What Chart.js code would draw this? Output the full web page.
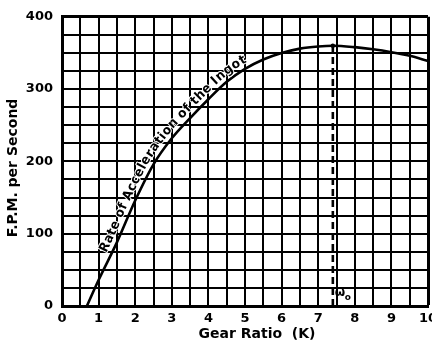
<!DOCTYPE html>
<html>
<head>
<meta charset="utf-8">
<script src="https://cdn.jsdelivr.net/npm/chart.js"></script>
<style>
  html, body { margin: 0; padding: 0; background: #fff; }
  #wrap { width: 432px; height: 345px; }
</style>
</head>
<body>
<div id="wrap"><canvas id="accelChart" width="432" height="345"></canvas></div>
<script>
// gear ratio K against rate of acceleration (F.P.M. per second)
const gearRatio = [0.68, 1.0, 1.5, 2.0, 2.5, 3.0, 3.5, 4.0, 4.5, 5.0, 5.5, 6.0, 6.5, 7.0, 7.4, 8.0, 8.5, 9.0, 9.5, 10.0];
const fpmPerSec = [0, 36, 88, 146, 196, 232, 260, 286, 310, 328, 341, 350, 356, 359, 360, 358, 355, 351, 346, 339];

// optimum ratio, dashed down to the axis
const peakX = [7.4, 7.4];
const peakY = [0, 360];

const xTicks = [0, 1, 2, 3, 4, 5, 6, 7, 8, 9, 10];
const yTicks = [0, 100, 200, 300, 400];

const curveLabel = 'Rate of Acceleration of the Ingot';
const xTitle = 'Gear Ratio  (K)';
const yTitle = 'F.P.M. per Second';

const FONT = '"DejaVu Sans", sans-serif';

const curveData = gearRatio.map((x, i) => ({ x: x, y: fpmPerSec[i] }));
const peakData = peakX.map((x, i) => ({ x: x, y: peakY[i] }));

// walk along the drawn bezier curve and put the caption on it
function curvePath(meta){
  const pts = [];
  const d = meta.data;
  for(let i = 0; i < d.length - 1; i++){
    const a = d[i], b = d[i + 1];
    const c1x = a.cp2x ?? a.x, c1y = a.cp2y ?? a.y;
    const c2x = b.cp1x ?? b.x, c2y = b.cp1y ?? b.y;
    for(let k = 0; k < 12; k++){
      const t = k / 12, u = 1 - t;
      pts.push({
        x: u*u*u*a.x + 3*u*u*t*c1x + 3*u*t*t*c2x + t*t*t*b.x,
        y: u*u*u*a.y + 3*u*u*t*c1y + 3*u*t*t*c2y + t*t*t*b.y
      });
    }
  }
  const last = d[d.length - 1];
  pts.push({ x: last.x, y: last.y });
  let s = 0;
  pts[0].s = 0;
  for(let i = 1; i < pts.length; i++){
    s += Math.hypot(pts[i].x - pts[i-1].x, pts[i].y - pts[i-1].y);
    pts[i].s = s;
  }
  return pts;
}

function pointAt(pts, s){
  for(let i = 1; i < pts.length; i++){
    if(pts[i].s >= s){
      const p = pts[i-1], q = pts[i];
      const f = (s - p.s) / ((q.s - p.s) || 1);
      return { x: p.x + (q.x - p.x) * f, y: p.y + (q.y - p.y) * f, a: Math.atan2(q.y - p.y, q.x - p.x) };
    }
  }
  const p = pts[pts.length - 2], q = pts[pts.length - 1];
  return { x: q.x, y: q.y, a: Math.atan2(q.y - p.y, q.x - p.x) };
}

const textPlugin = {
  id: 'textPlugin',
  afterDatasetsDraw(chart){
    const ctx = chart.ctx;
    const xs = chart.scales.x, ys = chart.scales.y;
    const pts = curvePath(chart.getDatasetMeta(0));

    // caption follows the curve between these pixel marks
    let s0 = 0, s1 = 0;
    for(const p of pts){ if(p.y <= 256){ s0 = p.s; break; } }
    for(const p of pts){ if(p.x >= 249){ s1 = p.s; break; } }

    ctx.save();
    const chars = [...curveLabel];
    ctx.font = 'bold 13px ' + FONT;
    const widths = chars.map(ch => ch === ' ' ? 4 : ctx.measureText(ch).width);
    const total = widths.reduce((a, b) => a + b, 0);
    const gap = 0.5;
    // squeeze the letters sideways so the caption fits its stretch of curve
    const squeeze = Math.min(1, (s1 - s0 - gap * (chars.length - 1)) / total);
    let s = s0;
    ctx.textAlign = 'center';
    ctx.textBaseline = 'alphabetic';
    ctx.lineJoin = 'round';
    chars.forEach((ch, i) => {
      const w = widths[i] * squeeze;
      const p = pointAt(pts, s + w / 2);
      ctx.save();
      ctx.translate(p.x, p.y);
      ctx.rotate(p.a);
      ctx.scale(squeeze, 1);
      ctx.strokeStyle = '#fff';
      ctx.lineWidth = 2;
      ctx.strokeText(ch, 0, -5);
      ctx.fillStyle = '#000';
      ctx.fillText(ch, 0, -5);
      ctx.restore();
      s += w + gap;
    });
    ctx.restore();

    // omega-zero mark next to the dashed line
    const px = xs.getPixelForValue(peakX[0]);
    const py = ys.getPixelForValue(0);
    ctx.save();
    ctx.fillStyle = '#000';
    ctx.textAlign = 'left';
    ctx.textBaseline = 'alphabetic';
    ctx.font = 'bold 12px ' + FONT;
    ctx.fillText('ω', px + 2, py - 10);
    ctx.font = 'bold 9px ' + FONT;
    ctx.fillText('o', px + 12, py - 6);
    ctx.restore();

    // axis titles
    ctx.save();
    ctx.fillStyle = '#000';
    ctx.font = 'bold 14px ' + FONT;
    ctx.textAlign = 'center';
    ctx.textBaseline = 'middle';
    ctx.fillText(xTitle, 257, 334);
    ctx.translate(13, 168);
    ctx.rotate(-Math.PI / 2);
    ctx.fillText(yTitle, 0, 0);
    ctx.restore();
  }
};

const edge = (max) => (c) => (c.tick && c.tick.value === max) ? 3 : 2;

new Chart(document.getElementById('accelChart'), {
  type: 'line',
  data: {
    datasets: [
      {
        data: curveData,
        borderColor: '#000',
        borderWidth: 2.6,
        pointRadius: 0,
        cubicInterpolationMode: 'monotone',
        fill: false
      },
      {
        data: peakData,
        borderColor: '#000',
        borderWidth: 2.6,
        borderDash: [7, 4],
        pointRadius: [0, 2.2],
        pointBackgroundColor: '#000',
        pointBorderWidth: 0,
        fill: false
      }
    ]
  },
  options: {
    responsive: false,
    animation: false,
    events: [],
    layout: { padding: { top: 10, right: 4, left: 0, bottom: 0 } },
    plugins: {
      legend: { display: false },
      tooltip: { enabled: false }
    },
    scales: {
      x: {
        type: 'linear',
        min: 0,
        max: 10,
        afterFit(scale){
          scale.height = 39;
          scale.paddingLeft = 0;
          scale.paddingRight = 0;
        },
        border: { display: true, color: '#000', width: 3 },
        grid: { color: '#000', lineWidth: edge(10), drawTicks: false },
        ticks: {
          stepSize: 0.5,
          autoSkip: false,
          maxRotation: 0,
          padding: 5,
          color: '#000',
          font: { family: FONT, size: 13, weight: 'bold' },
          callback: v => xTicks.includes(v) ? String(v) : ''
        }
      },
      y: {
        min: 0,
        max: 400,
        afterFit(scale){ scale.width = 62; },
        border: { display: true, color: '#000', width: 3 },
        grid: { color: '#000', lineWidth: edge(400), drawTicks: false },
        ticks: {
          stepSize: 25,
          autoSkip: false,
          padding: 9,
          color: '#000',
          font: { family: FONT, size: 13, weight: 'bold' },
          callback: v => yTicks.includes(v) ? String(v) : ''
        }
      }
    }
  },
  plugins: [textPlugin]
});
</script>
</body>
</html>
